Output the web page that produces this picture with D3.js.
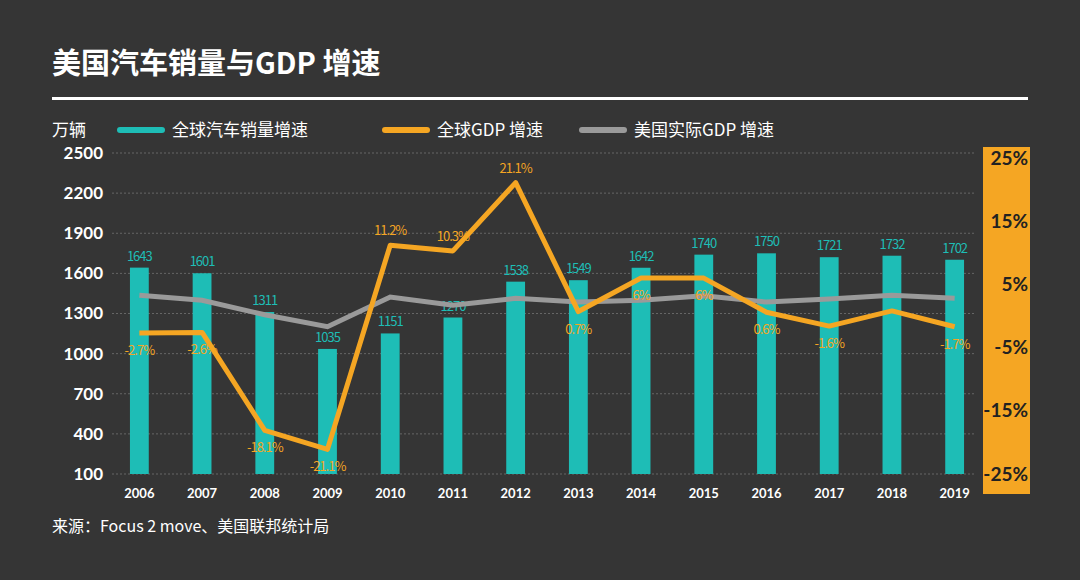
<!DOCTYPE html>
<html><head><meta charset="utf-8">
<script src="https://cdn.jsdelivr.net/npm/d3@7"></script>
<style>body{margin:0;background:#353535}svg{display:block;font-family:"Noto Sans CJK SC","Noto Sans",sans-serif}</style>
</head><body><svg></svg>
<script>
var years = [2006,2007,2008,2009,2010,2011,2012,2013,2014,2015,2016,2017,2018,2019];
var sales = [1643,1601,1311,1035,1151,1270,1538,1549,1642,1740,1750,1721,1732,1702];
var gdpWorld = [-2.7,-2.6,-18.1,-21.1,11.2,10.3,21.1,0.7,6,6,0.6,-1.6,0.8,-1.7];
var gdpLabels = ["-2.7%","-2.6%","-18.1%","-21.1%","11.2%","10.3%","21.1%","0.7%","6%","6%","0.6%","-1.6%","","-1.7%"];
var gdpUS = [3.3,2.5,0.2,-1.7,3.0,1.7,2.8,2.2,2.5,3.2,2.2,2.7,3.3,2.8];
var leftTicks = [100,400,700,1000,1300,1600,1900,2200,2500];
var rightTicks = [-25,-15,-5,5,15,25];

var teal = "#1ebdb6", orange = "#f5a623", grey = "#9a9a9a";
var svg = d3.select("svg").attr("width",1080).attr("height",580);

svg.append("text").attr("x",52).attr("y",74).attr("fill","#fff")
  .attr("font-size",29).attr("font-weight",700).text("美国汽车销量与GDP 增速");
svg.append("rect").attr("x",52).attr("y",97).attr("width",976).attr("height",3).attr("fill","#fff");

var x = d3.scaleBand().domain(years).range([108,986]).paddingInner(0.7).paddingOuter(0.35);
var y = d3.scaleLinear().domain([100,2500]).range([474,153]);
var yr = d3.scaleLinear().domain([-25,25]).range([474,158]);

// legend
svg.append("text").attr("x",52).attr("y",136).attr("fill","#fff").attr("font-size",17).text("万辆");
var leg = [["全球汽车销量增速",teal,120],["全球GDP 增速",orange,385],["美国实际GDP 增速",grey,582]];
leg.forEach(function(d){
  svg.append("line").attr("x1",d[2]).attr("x2",d[2]+42).attr("y1",130).attr("y2",130)
    .attr("stroke",d[1]).attr("stroke-width",6).attr("stroke-linecap","round");
  svg.append("text").attr("x",d[2]+52).attr("y",136).attr("fill","#fff").attr("font-size",17).text(d[0]);
});

// right orange panel
svg.append("rect").attr("x",983).attr("y",147).attr("width",47).attr("height",347).attr("fill",orange);

// grid
svg.append("g").selectAll("line").data(leftTicks).join("line")
  .attr("x1",112).attr("x2",975).attr("y1",d=>y(d)).attr("y2",d=>y(d))
  .attr("stroke","#666").attr("stroke-dasharray","2,2");

var la = svg.append("g").attr("transform","translate(103,0)")
  .call(d3.axisLeft(y).tickValues(leftTicks).tickSize(0).tickPadding(0).tickFormat(d3.format("d")));
la.select(".domain").remove();
la.selectAll("text").attr("fill","#fff").attr("font-size",17).attr("font-weight",700).attr("font-family","Lato,sans-serif");

var ra = svg.append("g").attr("transform","translate(1028,0)")
  .call(d3.axisLeft(yr).tickValues(rightTicks).tickSize(0).tickPadding(0).tickFormat(d=>d+"%"));
ra.select(".domain").remove();
ra.selectAll("text").attr("fill","#222").attr("font-size",19).attr("font-weight",700).attr("font-family","Lato,sans-serif");

var xa = svg.append("g").attr("transform","translate(0,489)")
  .call(d3.axisBottom(x).tickSize(0).tickPadding(0));
xa.select(".domain").remove();
xa.selectAll("text").attr("fill","#fff").attr("font-size",13).attr("font-weight",700).attr("font-family","Lato,sans-serif");

// bars
svg.append("g").selectAll("rect").data(years).join("rect")
  .attr("x",d=>x(d)).attr("width",x.bandwidth())
  .attr("y",(d,i)=>y(sales[i])).attr("height",(d,i)=>y(100)-y(sales[i])).attr("fill",teal);
svg.append("g").selectAll("text").data(years).join("text")
  .attr("x",d=>x(d)+x.bandwidth()/2).attr("y",(d,i)=>y(sales[i])-7)
  .attr("text-anchor","middle").attr("fill",teal).attr("font-size",13).attr("letter-spacing",-1)
  .text((d,i)=>sales[i]);

var cx = d=>x(d)+x.bandwidth()/2;
function path(vals){
  return d3.line().x((d,i)=>cx(years[i])).y(d=>yr(d))(vals);
}
svg.append("path").attr("d",path(gdpUS)).attr("fill","none").attr("stroke",grey).attr("stroke-width",5);
svg.append("path").attr("d",path(gdpWorld)).attr("fill","none").attr("stroke",orange).attr("stroke-width",5).attr("stroke-linejoin","round");

svg.append("g").selectAll("text").data(years).join("text")
  .attr("x",d=>cx(d)).attr("y",(d,i)=>(i>=4&&i<=6)?yr(gdpWorld[i])-10:yr(gdpWorld[i])+22)
  .attr("text-anchor","middle").attr("fill",orange).attr("font-size",13).attr("letter-spacing",-1)
  .text((d,i)=>gdpLabels[i]);

svg.append("text").attr("x",52).attr("y",532).attr("fill","#fff").attr("font-size",16)
  .text("来源：Focus 2 move、美国联邦统计局");
</script></body></html>
